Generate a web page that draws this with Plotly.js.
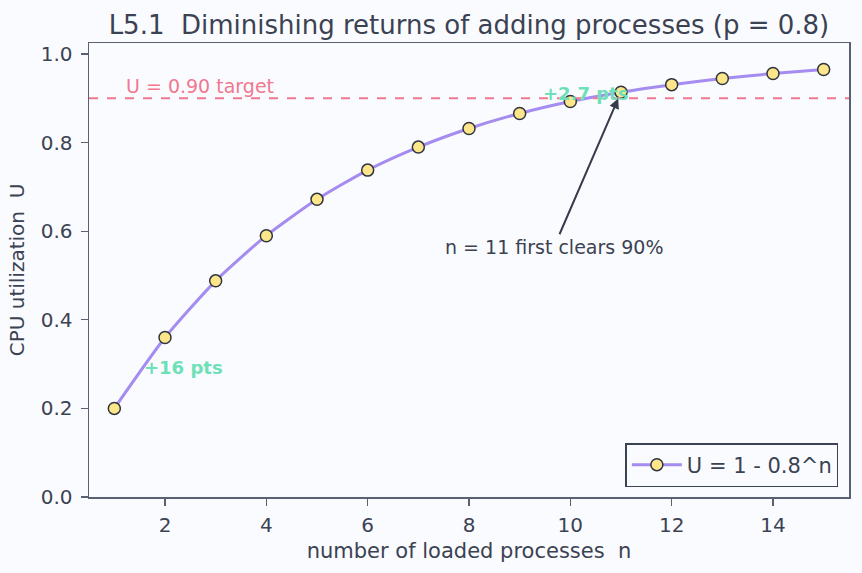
<!DOCTYPE html>
<html>
<head>
<meta charset="utf-8">
<script src="https://cdn.plot.ly/plotly-3.0.1.min.js"></script>
<style>
html,body{margin:0;padding:0;background:#fafbfe;}
#chart{width:862px;height:573px;}
</style>
</head>
<body>
<div id="chart"></div>
<script>
// Data
const nValues = [1, 2, 3, 4, 5, 6, 7, 8, 9, 10, 11, 12, 13, 14, 15];
const utilization = [0.200, 0.360, 0.488, 0.590, 0.672, 0.738, 0.790, 0.832, 0.866, 0.893, 0.914, 0.931, 0.945, 0.956, 0.965];
const targetU = 0.90;
const xTicks = [2, 4, 6, 8, 10, 12, 14];
const yTicks = [0.0, 0.2, 0.4, 0.6, 0.8, 1.0];
const yTickLabels = ["0.0", "0.2", "0.4", "0.6", "0.8", "1.0"];
const seriesName = "U = 1 - 0.8^n";
const firstClear = {n: 11, u: 0.914, textN: 9.68, textU: 0.565, label: "n = 11 first clears 90%"};
const gainNotes = [
  {x: 2.36, y: 0.293, text: "+16 pts"},
  {x: 10.29, y: 0.912, text: "+2.7 pts"}
];
const targetLabel = {x: 1.19, y: 0.928, text: "U = 0.90 target"};

const fontFam = "DejaVu Sans, sans-serif";
const ink = "#3b4252";
const spine = "#596072";

const trace = {
  x: nValues, y: utilization, name: seriesName,
  type: "scatter", mode: "lines+markers",
  line: {color: "#a48cf0", width: 3, shape: "spline", smoothing: 0.6},
  marker: {color: "#fde68a", size: 12, line: {color: "#2e3440", width: 1.5}}
};

const annotations = [
  {x: firstClear.n, y: firstClear.u, xref: "x", yref: "y",
   ax: firstClear.textN, ay: firstClear.textU, axref: "x", ayref: "y",
   text: firstClear.label, showarrow: true, arrowhead: 2, arrowsize: 1, arrowwidth: 2,
   arrowcolor: "#363c4c", standoff: 7, font: {family: fontFam, size: 19, color: ink}},
  {x: targetLabel.x, y: targetLabel.y, xref: "x", yref: "y", text: targetLabel.text,
   showarrow: false, xanchor: "left", yanchor: "middle", font: {family: fontFam, size: 19, color: "#f07890"}}
];
gainNotes.forEach(g => annotations.push({
  x: g.x, y: g.y, xref: "x", yref: "y", text: "<b>" + g.text + "</b>", showarrow: false,
  xanchor: "center", yanchor: "middle", font: {family: fontFam, size: 18, color: "#6ee0b8"}
}));

const layout = {
  width: 862, height: 573,
  paper_bgcolor: "#fafbfe", plot_bgcolor: "#fafbfe",
  margin: {l: 89, r: 13, t: 43, b: 76},
  font: {family: fontFam, color: ink},
  title: {text: "L5.1  Diminishing returns of adding processes (p = 0.8)",
          font: {family: fontFam, size: 26, color: ink}, x: 0.544, xanchor: "center", y: 0.957, yanchor: "middle"},
  xaxis: {range: [0.5, 15.5], tickvals: xTicks, ticks: "outside", ticklen: 7, tickwidth: 1.3, tickcolor: spine,
          showgrid: false, zeroline: false, showline: true, linecolor: spine, linewidth: 1.5, mirror: true,
          ticklabelstandoff: 2,
          tickfont: {family: fontFam, size: 20, color: ink},
          title: {text: "number of loaded processes  n", font: {family: fontFam, size: 21, color: ink}, standoff: 8}},
  yaxis: {range: [0, 1.025], tickvals: yTicks, ticktext: yTickLabels, ticks: "outside", ticklen: 7, tickwidth: 1.3, tickcolor: spine,
          showgrid: false, zeroline: false, showline: true, linecolor: spine, linewidth: 1.5, mirror: true,
          ticklabelstandoff: 4,
          tickfont: {family: fontFam, size: 20, color: ink},
          title: {text: "CPU utilization  U", font: {family: fontFam, size: 20, color: ink}, standoff: 10}},
  shapes: [{type: "line", xref: "paper", x0: 0, x1: 1, yref: "y", y0: targetU, y1: targetU,
            line: {color: "#f07890", width: 2, dash: "dash"}}],
  annotations: annotations,
  showlegend: true,
  legend: {x: 0.986, y: 0.022, xanchor: "right", yanchor: "bottom", bgcolor: "#fafbfe", itemwidth: 50,
           bordercolor: "#3b4252", borderwidth: 1.5, font: {family: fontFam, size: 21, color: ink}}
};

Plotly.newPlot("chart", [trace], layout, {displayModeBar: false, staticPlot: true});
</script>
</body>
</html>
